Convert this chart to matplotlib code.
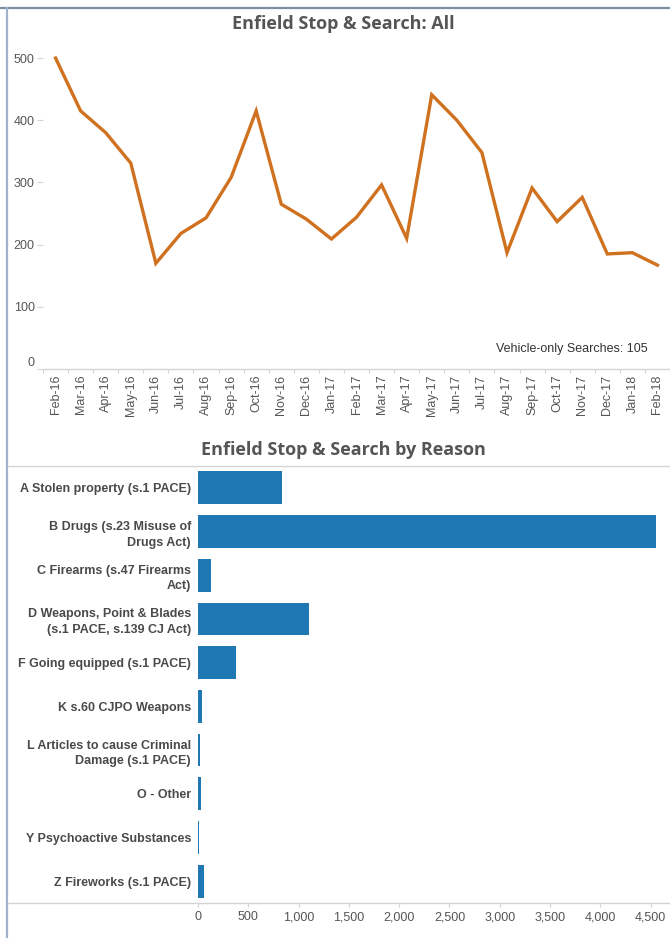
import matplotlib
matplotlib.use("Agg")
import matplotlib.pyplot as plt
from matplotlib.lines import Line2D
import numpy as np

# ---- data ----
months = ["Feb-16", "Mar-16", "Apr-16", "May-16", "Jun-16", "Jul-16", "Aug-16", "Sep-16",
          "Oct-16", "Nov-16", "Dec-16", "Jan-17", "Feb-17", "Mar-17", "Apr-17", "May-17",
          "Jun-17", "Jul-17", "Aug-17", "Sep-17", "Oct-17", "Nov-17", "Dec-17", "Jan-18", "Feb-18"]
searches = [500, 415, 380, 331, 170, 218, 243, 308,
            415, 265, 241, 209, 244, 296, 210, 441,
            400, 348, 187, 291, 237, 276, 185, 187, 167]
y_ticks = [0, 100, 200, 300, 400, 500]

reasons = ["A Stolen property (s.1 PACE)",
           "B Drugs (s.23 Misuse of\nDrugs Act)",
           "C Firearms (s.47 Firearms\nAct)",
           "D Weapons, Point & Blades\n(s.1 PACE, s.139 CJ Act)",
           "F Going equipped (s.1 PACE)",
           "K s.60 CJPO Weapons",
           "L Articles to cause Criminal\nDamage (s.1 PACE)",
           "O - Other",
           "Y Psychoactive Substances",
           "Z Fireworks (s.1 PACE)"]
reason_counts = [838, 4553, 130, 1107, 380, 40, 15, 30, 5, 57]
x_ticks = [0, 500, 1000, 1500, 2000, 2500, 3000, 3500, 4000, 4500]

plt.rcParams['font.family'] = ['Liberation Sans', 'DejaVu Sans']

W, H = 670, 938
fig = plt.figure(figsize=(W / 100, H / 100), dpi=100)

def fx(x):
    return x / W

def fy(y):
    return 1 - y / H

LINE_COL = "#d0711f"
BAR_COL = "#1f77b4"
TXT = "#555555"
GRID = "#d4d4d4"
FS = 9

# ---- frame ----
fig.add_artist(Line2D([fx(0), fx(670)], [fy(8), fy(8)], color="#7d8da4", lw=1.6))
fig.add_artist(Line2D([fx(7), fx(7)], [fy(8), fy(938)], color="#9fb2c9", lw=1.6))

# ---- top chart ----
ax1 = fig.add_axes([fx(43), fy(369), fx(670) - fx(43), fy(40) - fy(369)])
x = np.arange(len(months))
ax1.plot(x, searches, color=LINE_COL, lw=2.4, solid_joinstyle="miter")
ax1.set_xlim(-0.5, len(months) - 0.5)
ax1.set_ylim(0, 529)
for s in ["top", "right", "left"]:
    ax1.spines[s].set_visible(False)
ax1.spines["bottom"].set_color(GRID)
ax1.spines["bottom"].set_linewidth(1.0)
ax1.set_xticks(x)
ax1.set_xticklabels(months, rotation=90, fontsize=FS, color=TXT)
ax1.tick_params(axis="x", which="major", length=0, pad=4)
ax1.set_xticks(np.arange(-0.5, len(months), 1.0), minor=True)
ax1.tick_params(axis="x", which="minor", length=3, color=GRID, width=0.8)
ax1.set_yticks(y_ticks)
ax1.set_yticklabels([str(v) for v in y_ticks], fontsize=FS, color=TXT)
ax1.tick_params(axis="y", length=4, color=GRID, width=0.8, pad=2)
ylabs = ax1.get_yticklabels()
ylabs[0].set_verticalalignment("bottom")
fig.text(fx(648), fy(349), "Vehicle-only Searches: 105", ha="right", va="center",
         fontsize=FS, color="#333333")
fig.text(fx(343), fy(24), "Enfield Stop & Search: All", ha="center", va="center",
         fontsize=13, fontweight="bold", color="#555555", family=["Open Sans", "DejaVu Sans"])

# ---- separator ----
fig.add_artist(Line2D([fx(8), fx(670)], [fy(466), fy(466)], color=GRID, lw=1.0))

# ---- bottom chart ----
fig.text(fx(343), fy(450), "Enfield Stop & Search by Reason", ha="center", va="center",
         fontsize=13, fontweight="bold", color="#555555", family=["Open Sans", "DejaVu Sans"])
ax2 = fig.add_axes([fx(198), fy(903), fx(670) - fx(198), fy(466) - fy(903)])
yy = np.arange(len(reasons))
ax2.barh(yy, reason_counts, height=0.75, color=BAR_COL)
ax2.set_ylim(len(reasons) - 0.5, -0.5)
ax2.set_xlim(0, 4692)
for s in ["top", "right", "left", "bottom"]:
    ax2.spines[s].set_visible(False)
ax2.set_yticks(yy)
ax2.set_yticklabels(reasons, fontsize=FS, color="#4a4a4a", fontweight="bold", linespacing=1.4)
ax2.tick_params(axis="y", length=0, pad=5)
ax2.set_xticks(x_ticks)
ax2.set_xticklabels([f"{v:,}" for v in x_ticks], fontsize=FS, color=TXT)
ax2.tick_params(axis="x", length=3, color=GRID, width=0.8, pad=3)
fig.add_artist(Line2D([fx(8), fx(670)], [fy(903), fy(903)], color=GRID, lw=1.0))

fig.savefig("out.png", dpi=100)
